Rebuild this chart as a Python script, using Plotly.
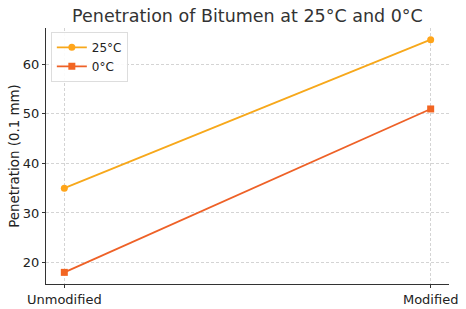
import plotly.graph_objects as go

categories = ["Unmodified", "Modified"]
pen_25 = [35, 65]
pen_0 = [18, 51]
series_names = ["25°C", "0°C"]
y_ticks = [20, 30, 40, 50, 60]

x_idx = list(range(len(categories)))

fig = go.Figure()
fig.add_trace(go.Scatter(
    x=x_idx, y=pen_25, name=series_names[0], mode="lines+markers",
    line=dict(color="#F7A81B", width=1.8),
    marker=dict(symbol="circle", size=7, color="#FFA51A"),
))
fig.add_trace(go.Scatter(
    x=x_idx, y=pen_0, name=series_names[1], mode="lines+markers",
    line=dict(color="#EE6127", width=1.8),
    marker=dict(symbol="square", size=7, color="#F26522"),
))

fig.update_layout(
    width=466, height=309,
    margin=dict(l=46, r=17, t=28, b=25, autoexpand=False),
    paper_bgcolor="white", plot_bgcolor="white",
    font=dict(family="DejaVu Sans", color="#222222", size=13),
    title=dict(text="Penetration of Bitumen at 25°C and 0°C",
               x=0.531, xanchor="center", y=0.95, yanchor="middle",
               font=dict(size=17.5, color="#333333")),
    showlegend=True,
    legend=dict(x=0.012, y=0.985, xanchor="left", yanchor="top",
                bgcolor="rgba(255,255,255,0.9)", bordercolor="#dddddd", borderwidth=1,
                font=dict(size=12), itemwidth=30, tracegroupgap=0),
    xaxis=dict(
        range=[-0.05, 1.05], tickmode="array", tickvals=x_idx, ticktext=categories,
        showgrid=True, gridcolor="#d4d4d4", griddash="3px,2px", gridwidth=0.8,
        showline=True, linecolor="#333333", linewidth=1.2,
        ticks="outside", ticklen=3, tickcolor="#333333",
        zeroline=False, tickfont=dict(size=13), automargin=False,
    ),
    yaxis=dict(
        range=[15.65, 67.35], tickmode="array", tickvals=y_ticks,
        showgrid=True, gridcolor="#d4d4d4", griddash="3px,2px", gridwidth=0.8,
        showline=True, linecolor="#333333", linewidth=1.2,
        ticks="outside", ticklen=3, tickcolor="#333333",
        zeroline=False, tickfont=dict(size=13), automargin=False,
        title=dict(text="Penetration (0.1 mm)", font=dict(size=13.4), standoff=0),
    ),
)

fig.write_html("out.html")
